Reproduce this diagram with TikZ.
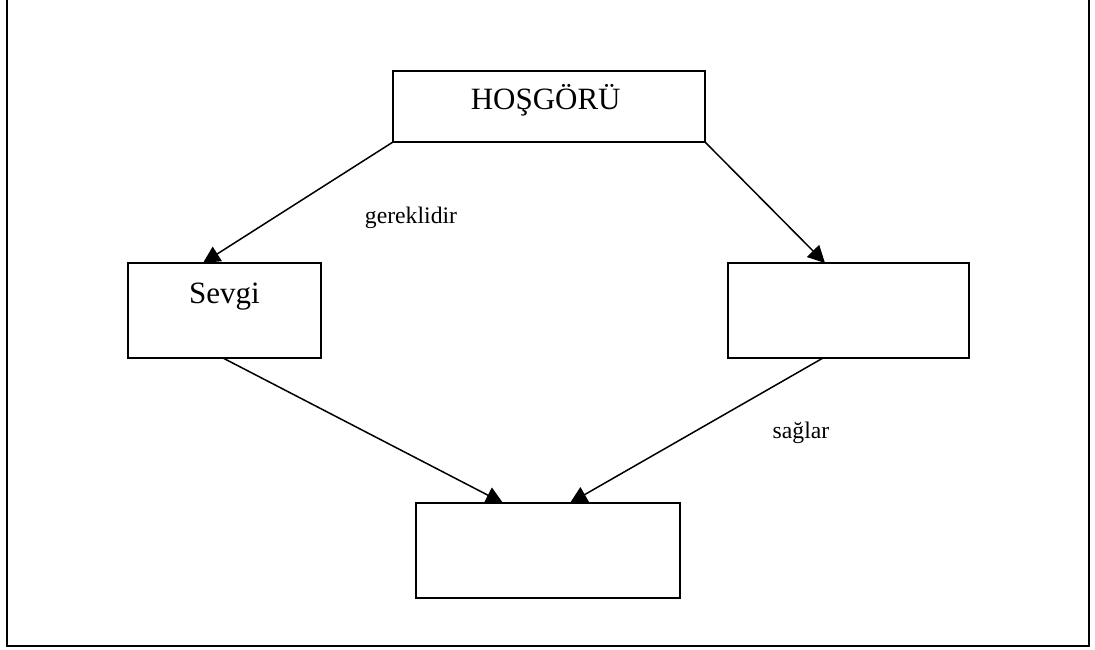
\documentclass[tikz,border=0pt]{standalone}
\usepackage{fontspec}
\setmainfont{Liberation Serif}
\usetikzlibrary{arrows.meta,calc}
\begin{document}
\begin{tikzpicture}[x=1pt,y=-1pt,
  box/.style={draw, line width=1.5pt, inner sep=0pt, outer sep=0pt},
  bigtext/.style={anchor=base, inner sep=0pt, font=\fontsize{31}{36}\selectfont},
  smalltext/.style={anchor=base, inner sep=0pt, font=\fontsize{23.7}{28}\selectfont},
  link/.style={line width=1.5pt, -{Triangle[length=17pt,width=17pt]}}]
  \useasboundingbox (0,0) rectangle (1095,650);
  % outer frame, its top edge runs past the page
  \begin{scope}
    \clip (0,0) rectangle (1095,650);
    \draw[line width=2pt] (7,-5) rectangle (1089,646);
  \end{scope}
  % boxes
  \node[box, minimum width=312pt, minimum height=71pt] (hosgoru) at (549,106.5) {};
  \node[box, minimum width=193pt, minimum height=95pt] (sevgi) at (224.5,310.5) {};
  \node[box, minimum width=241pt, minimum height=95pt] (right) at (848.5,310.5) {};
  \node[box, minimum width=264pt, minimum height=95pt] (bottom) at (548,550.5) {};
  % texts
  \node[bigtext] (t1) at (545.7,110) {HOŞGÖRÜ};
  \node[bigtext] (t2) at (224.5,303) {Sevgi};
  \node[smalltext] (l1) at (411,223) {gereklidir};
  \node[smalltext] (l2) at (801,438) {sağlar};
  % connectors
  \draw[link] (hosgoru.south west) -- ($(sevgi.north west)+(75,0)$);
  \draw[link] (hosgoru.south east) -- ($(right.north west)+(97,0)$);
  \draw[link] ($(sevgi.south west)+(95,0)$) -- ($(bottom.north west)+(87,0)$);
  \draw[link] ($(right.south west)+(95,0)$) -- ($(bottom.north west)+(154,0)$);
\end{tikzpicture}
\end{document}
